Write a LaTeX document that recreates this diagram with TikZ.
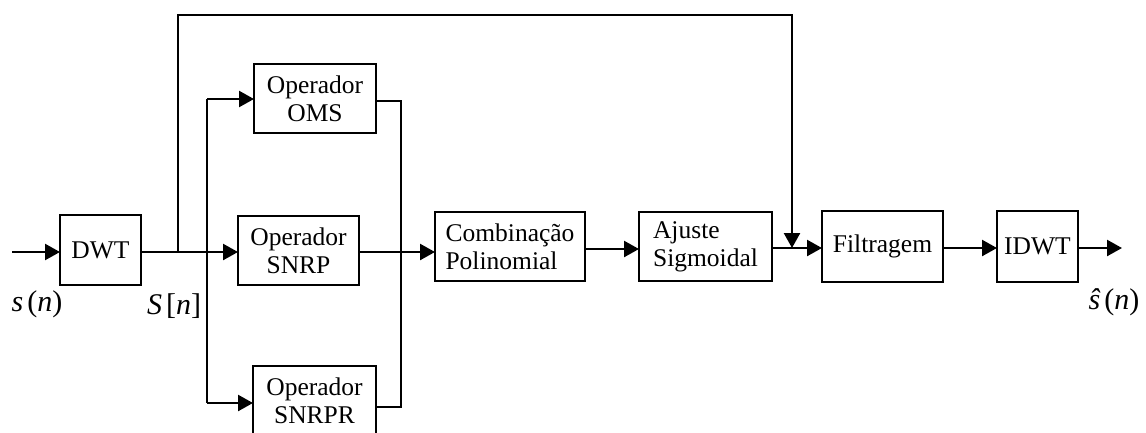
\documentclass[tikz,border=0pt]{standalone}
\usepackage{fontspec}
\setmainfont{Liberation Serif}
\usetikzlibrary{arrows.meta}
\begin{document}
\begin{tikzpicture}[x=1pt,y=-1pt,
  blk/.style={draw, line width=2.4pt, inner sep=0pt, outer sep=0pt,
    font=\fontsize{25.5}{28}\selectfont},
  wire/.style={line width=2.4pt},
  arr/.style={line width=2.4pt, -{Triangle[length=15pt 0,width=16pt 0]}},
  lbl/.style={inner sep=0pt, font=\fontsize{30}{32}\selectfont}]
\useasboundingbox (0,0) rectangle (1146,432);
% blocks
\node[blk, minimum width=81pt, minimum height=70pt] (dwt) at (100.5,250) {DWT};
\node[blk, minimum width=122pt, minimum height=69pt, align=center] (oms) at (315,98.5) {Operador\\OMS};
\node[blk, minimum width=121pt, minimum height=69pt, align=center] (snrp) at (298.5,250.5) {Operador\\SNRP};
\node[blk, minimum width=123pt, minimum height=69pt, align=center] (snrpr) at (314.5,400.5) {Operador\\SNRPR};
\node[blk, minimum width=150pt, minimum height=69pt, align=left] (comb) at (510,246.5) {Combinação\\Polinomial};
\node[blk, minimum width=133pt, minimum height=69pt, align=left] (ajs) at (705.5,246.5) {Ajuste\\Sigmoidal};
\node[blk, minimum width=121pt, minimum height=71pt] (filt) at (882.5,246.5) {Filtragem};
\node[blk, minimum width=81pt, minimum height=71pt] (idwt) at (1037.5,246.5) {IDWT};
% labels
\node[lbl] (lin) at (37,304) {\itshape s\kern4pt\upshape(\itshape n\upshape)};
\node[lbl] (lS) at (174,306) {\itshape S\kern4pt\upshape[\itshape n\upshape]};
\node[lbl] (lout) at (1114,302) {\itshape ŝ\kern4pt\upshape(\itshape n\upshape)};
% coordinates
\coordinate (in) at (12,252);
\coordinate (j1) at (178,252);
\coordinate (t1) at (178,15);
\coordinate (t2) at (792,15);
\coordinate (j4) at (792,248);
\coordinate (sa) at (207,99);
\coordinate (sb) at (207,403);
\coordinate (ma) at (401,101);
\coordinate (mb) at (401,407);
\coordinate (out) at (1122,248);
% connectors
\draw[arr] (in) -- (dwt.west |- in);
\draw[arr] (dwt.east |- j1) -- (snrp.west |- j1);
\draw[arr] (j1) -- (t1) -- (t2) -- (j4);
\draw[wire] (sa) -- (sb);
\draw[arr] (sa) -- (oms.west |- sa);
\draw[arr] (sb) -- (snrpr.west |- sb);
\draw[wire] (oms.east |- ma) -- (ma) -- (mb) -- (snrpr.east |- mb);
\draw[arr] (snrp.east |- j1) -- (comb.west |- j1);
\draw[arr] (comb.east |- 0,249) -- (ajs.west |- 0,249);
\draw[arr] (ajs.east |- j4) -- (filt.west |- j4);
\draw[arr] (filt.east |- j4) -- (idwt.west |- j4);
\draw[arr] (idwt.east |- out) -- (out);
\end{tikzpicture}
\end{document}
